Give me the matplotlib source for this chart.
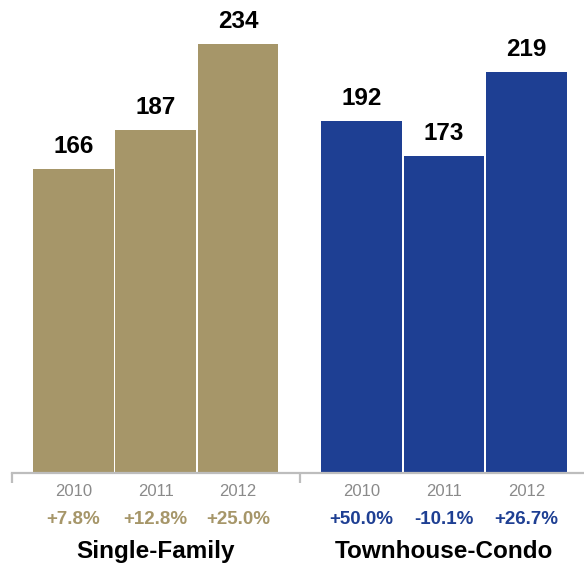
import numpy as np
import matplotlib.pyplot as plt

#-------------------
# Closed sales by type, 2010-2012

groups = ["Single-Family", "Townhouse-Condo"]
years = ["2010", "2011", "2012"]
single_family = [166, 187, 234]
townhouse_condo = [192, 173, 219]
sf_change = ["+7.8%", "+12.8%", "+25.0%"]
tc_change = ["+50.0%", "-10.1%", "+26.7%"]

GOLD = "#a69669"
BLUE = "#1e3f93"
AXIS_GRAY = "#bdbdbd"

plt.rcParams['font.family'] = ['Liberation Sans', 'DejaVu Sans']

#-------------------

fig = plt.figure(figsize=(5.84, 5.66), dpi=100)
ax = fig.add_axes([12 / 584, 93 / 566, 572 / 584, 473 / 566])

x_sf = np.arange(3)
x_tc = np.arange(3) + 3.5
x_left, x_right = -0.745, 6.2
group_split = 2.75

series = [
    (groups[0], x_sf, single_family, sf_change, GOLD),
    (groups[1], x_tc, townhouse_condo, tc_change, BLUE),
]

for name, xs, vals, changes, color in series:
    bars = ax.bar(xs, vals, width=0.98, color=color, linewidth=0)
    for bar, v in zip(bars, vals):
        ax.annotate(str(v), xy=(bar.get_x() + bar.get_width() / 2, v),
                    xytext=(0, 16), textcoords="offset pixels",
                    ha="center", va="baseline", fontsize=17.5,
                    fontweight="bold", color="black")
    for x, yr, ch in zip(xs, years, changes):
        ax.annotate(yr, xy=(x, 0), xytext=(0, -23), textcoords="offset pixels",
                    ha="center", va="baseline", fontsize=12, color="#8a8a8a",
                    annotation_clip=False)
        ax.annotate(ch, xy=(x, 0), xytext=(0, -51), textcoords="offset pixels",
                    ha="center", va="baseline", fontsize=13.5,
                    fontweight="bold", color=color, annotation_clip=False)
    ax.annotate(name, xy=(xs[1], 0), xytext=(0, -85), textcoords="offset pixels",
                ha="center", va="baseline", fontsize=17.5, fontweight="bold",
                color="black", annotation_clip=False)

ax.set_xlim(x_left, x_right)
ax.set_ylim(0, 258)

for side in ["top", "right", "left"]:
    ax.spines[side].set_visible(False)
ax.spines["bottom"].set_color(AXIS_GRAY)
ax.spines["bottom"].set_linewidth(1.6)

ax.set_yticks([])
ax.set_xticks([x_left + 0.005, group_split])
ax.set_xticklabels([])
ax.tick_params(axis="x", direction="out", length=7, width=1.6, color=AXIS_GRAY)

fig.savefig("out.png", dpi=100)
